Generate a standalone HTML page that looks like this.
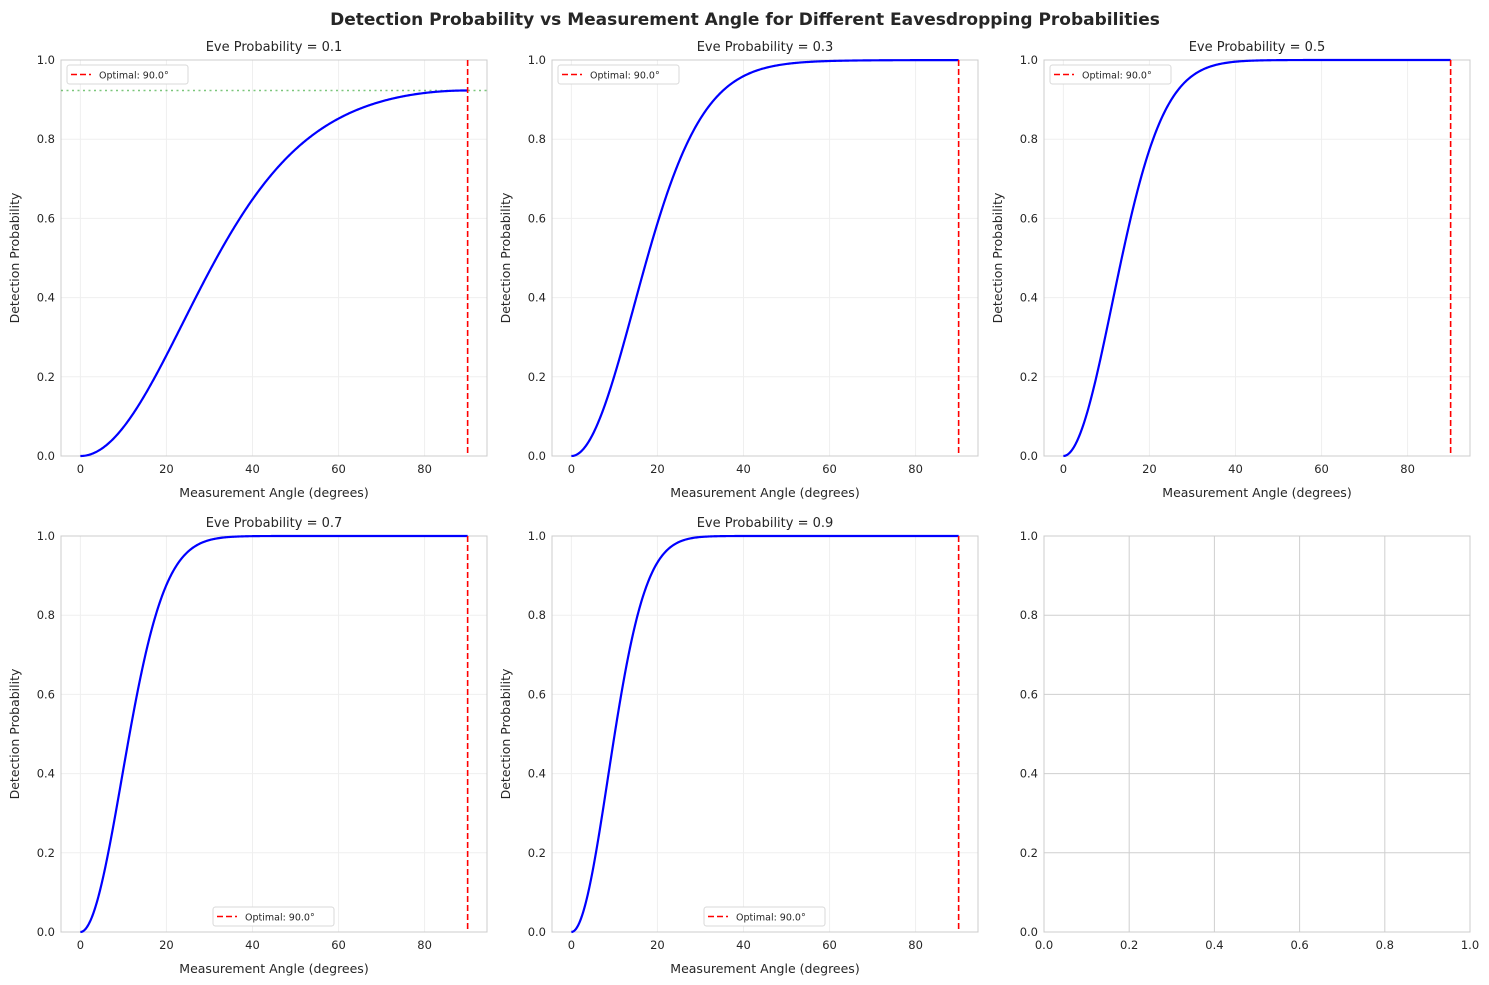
<!DOCTYPE html>
<html><head><meta charset="utf-8"><style>
html,body{margin:0;padding:0;background:#fff;}
svg{display:block;font-family:"DejaVu Sans","Liberation Sans",sans-serif;}
</style></head><body>
<svg id="s" width="1489" height="985" xmlns="http://www.w3.org/2000/svg">
<text x="745" y="25" text-anchor="middle" font-size="17" font-weight="bold" fill="#262626">Detection Probability vs Measurement Angle for Different Eavesdropping Probabilities</text>
</svg>
<script>
const s=document.getElementById('s');const NS='http://www.w3.org/2000/svg';
function el(t,a,txt){const e=document.createElementNS(NS,t);for(const k in a)e.setAttribute(k,a[k]);if(txt!==undefined)e.textContent=txt;s.appendChild(e);return e;}
const cols=[61,552,1044],rows=[60,536],W=426,H=396;
const ps=[0.1,0.3,0.5,0.7,0.9];
for(let i=0;i<6;i++){
 const L=cols[i%3],T=rows[Math.floor(i/3)],B=T+H,R=L+W;
 if(i<5){
  const p=ps[i];
  const X=d=>L+(d+4.5)/99*W, Y=v=>B-v*H;
  for(let d=0;d<=80;d+=20){el('line',{x1:X(d),x2:X(d),y1:T,y2:B,stroke:'#efefef','stroke-width':1});
   el('text',{x:X(d),y:B+17,'text-anchor':'middle','font-size':11.5,fill:'#262626'},d);}
  for(let k=0;k<=5;k++){const v=k/5;el('line',{x1:L,x2:R,y1:Y(v),y2:Y(v),stroke:'#efefef','stroke-width':1});
   el('text',{x:L-6,y:Y(v)+4,'text-anchor':'end','font-size':11.5,fill:'#262626'},v.toFixed(1));}
  el('rect',{x:L,y:T,width:W,height:H,fill:'none',stroke:'#cccccc','stroke-width':1});
  let pts=[];for(let j=0;j<=450;j++){const d=j*0.2,sn=Math.sin(d*Math.PI/180);const v=1-Math.pow(1-p*0.5*sn*sn,50);pts.push(X(d).toFixed(2)+','+Y(v).toFixed(2));}
  if(i==0)el('line',{x1:L,x2:R,y1:Y(0.923),y2:Y(0.923),stroke:'#5cb85c','stroke-width':1.5,'stroke-dasharray':'2,3.5',opacity:0.8});
  el('polyline',{points:pts.join(' '),fill:'none',stroke:'#0000ff','stroke-width':2.2});
  el('line',{x1:X(90),x2:X(90),y1:T,y2:B,stroke:'#ff0000','stroke-width':1.6,'stroke-dasharray':'6,3'});
  el('text',{x:(L+R)/2,y:T-9,'text-anchor':'middle','font-size':13,fill:'#262626'},'Eve Probability = '+p);
  el('text',{x:(L+R)/2,y:B+41,'text-anchor':'middle','font-size':12.5,fill:'#262626'},'Measurement Angle (degrees)');
  const yl=L-42,ym=(T+B)/2;
  el('text',{x:yl,y:ym,'text-anchor':'middle','font-size':12.5,fill:'#262626',transform:`rotate(-90 ${yl} ${ym})`},'Detection Probability');
  let lx,ly;if(i<3){lx=L+6;ly=T+5;}else{lx=L+152;ly=B-25;}
  el('rect',{x:lx,y:ly,width:121,height:19,rx:2.5,fill:'#fff',stroke:'#d8d8d8','stroke-width':1});
  el('line',{x1:lx+4,x2:lx+24,y1:ly+9.5,y2:ly+9.5,stroke:'#ff0000','stroke-width':1.6,'stroke-dasharray':'6,3'});
  el('text',{x:lx+32,y:ly+13.5,'font-size':9.5,fill:'#262626'},'Optimal: 90.0°');
 } else {
  for(let k=0;k<=5;k++){const v=k/5,x=L+v*W,y=B-v*H;
   el('line',{x1:x,x2:x,y1:T,y2:B,stroke:'#cfcfcf','stroke-width':1});
   el('line',{x1:L,x2:R,y1:y,y2:y,stroke:'#cfcfcf','stroke-width':1});
   el('text',{x:x,y:B+17,'text-anchor':'middle','font-size':11.5,fill:'#262626'},v.toFixed(1));
   el('text',{x:L-6,y:y+4,'text-anchor':'end','font-size':11.5,fill:'#262626'},v.toFixed(1));}
  el('rect',{x:L,y:T,width:W,height:H,fill:'none',stroke:'#cccccc','stroke-width':1});
 }
}
</script>
</body></html>
